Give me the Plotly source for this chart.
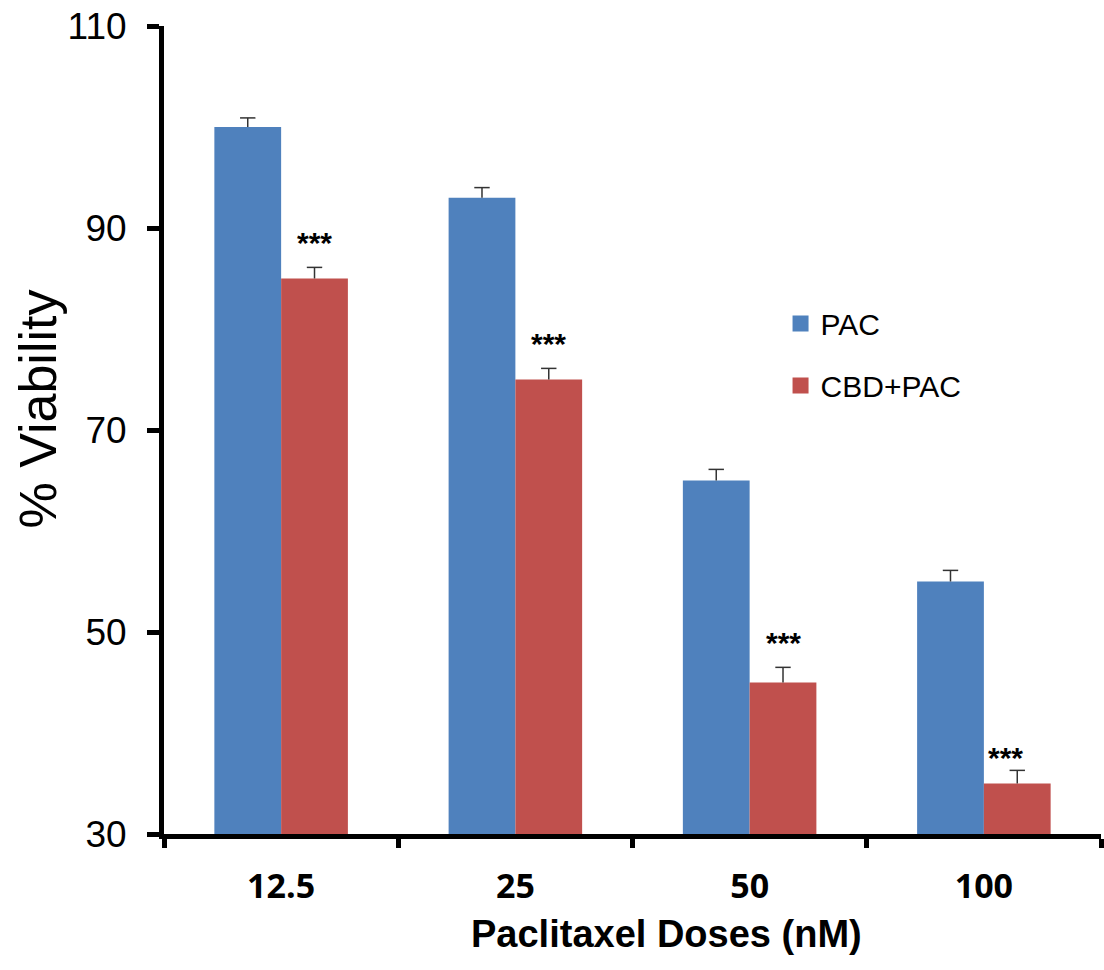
import plotly.graph_objects as go

categories = ["12.5", "25", "50", "100"]
pac = [100, 93, 65, 55]
pac_err = [0.9, 1.0, 1.1, 1.1]
cbd_pac = [85, 75, 45, 35]
cbd_pac_err = [1.1, 1.1, 1.5, 1.3]
sig_labels = ["***", "***", "***", "***"]
y_ticks = [30, 50, 70, 90, 110]

BLUE = "#4F81BD"
RED = "#C0504D"
BARGAP = 0.43
ERRC = "#333333"

fig = go.Figure()
fig.add_trace(go.Bar(x=categories, y=pac, name="PAC", marker_color=BLUE,
                     marker_line_width=0, showlegend=False,
                     error_y=dict(type="data", array=pac_err, arrayminus=[0]*4,
                                  symmetric=False, color=ERRC, thickness=1.5, width=0)))
fig.add_trace(go.Bar(x=categories, y=cbd_pac, name="CBD+PAC", marker_color=RED,
                     marker_line_width=0, showlegend=False,
                     error_y=dict(type="data", array=cbd_pac_err, arrayminus=[0]*4,
                                  symmetric=False, color=ERRC, thickness=1.5, width=0)))

# error bar caps (top only)
half = (1 - BARGAP) / 4
xs, ys = [], []
for i in range(len(categories)):
    xs += [i - half, i + half]
    ys += [pac[i] + pac_err[i], cbd_pac[i] + cbd_pac_err[i]]
fig.add_trace(go.Scatter(x=xs, y=ys, mode="markers", showlegend=False, xaxis="x2",
                         hoverinfo="skip",
                         marker=dict(symbol="line-ew-open", size=11, color=ERRC,
                                     line=dict(color=ERRC, width=1.5))))

# legend proxies with larger square symbols
for nm, col, grp in [("PAC", BLUE, "a"), ("CBD+PAC", RED, "b")]:
    fig.add_trace(go.Scatter(x=[None], y=[None], mode="markers", name=nm,
                             legendgroup=grp,
                             marker=dict(symbol="square", size=18, color=col)))

# significance stars above CBD+PAC bars
for i, (v, e, s) in enumerate(zip(cbd_pac, cbd_pac_err, sig_labels)):
    fig.add_annotation(x=i + half, y=v + e, xref="x2", yref="y", text=s,
                       showarrow=False, yanchor="bottom",
                       yshift=6 if i < 3 else -6, xshift=0 if i < 3 else -12,
                       font=dict(family="Liberation Sans", size=30, color="black",
                                 weight="bold"))

# axis titles
fig.add_annotation(x=0.536, y=-0.124, xref="paper", yref="paper",
                   text="<b>Paclitaxel Doses (nM)</b>", showarrow=False,
                   xanchor="center", yanchor="middle",
                   font=dict(family="Liberation Sans", size=38, color="black"))
fig.add_annotation(x=-0.135, y=0.526, xref="paper", yref="paper",
                   text="% Viability", showarrow=False, textangle=-90,
                   xanchor="center", yanchor="middle",
                   font=dict(family="Liberation Sans", size=52, color="black"))

fig.update_layout(
    width=1104, height=970,
    margin=dict(l=164, r=3, t=26, b=136),
    paper_bgcolor="white", plot_bgcolor="white",
    barmode="group", bargap=BARGAP, bargroupgap=0,
    legend=dict(x=0.658, y=0.664, xanchor="left", yanchor="top",
                font=dict(family="Liberation Sans", size=30, color="black"),
                traceorder="grouped", tracegroupgap=20, bgcolor="rgba(0,0,0,0)"),
    font=dict(family="Liberation Sans", color="black"),
    xaxis2=dict(overlaying="x", range=[-0.5, 3.5], visible=False),
)
fig.layout.xaxis.update(
    type="category", range=[-0.5, 3.5], automargin=False,
    showline=True, linecolor="black", linewidth=5,
    ticks="outside", tickson="boundaries", ticklen=9, tickwidth=5,
    tickcolor="black", showgrid=False, zeroline=False,
    tickfont=dict(family="Open Sans", size=34, color="black", weight="bold"),
    ticklabelstandoff=18, ticklabeloverflow="allow")
fig.update_yaxes(range=[30, 110], tickvals=y_ticks, automargin=False,
                 showline=True, linecolor="black", linewidth=5,
                 ticks="outside", ticklen=12, tickwidth=5, tickcolor="black",
                 showgrid=False, zeroline=False,
                 tickfont=dict(family="Liberation Sans", size=37, color="black"),
                 ticklabelstandoff=13, ticklabeloverflow="allow")

fig.write_html("out.html", config={"displayModeBar": False},
               post_script="document.body.style.margin='0';"
                           "document.body.style.overflow='hidden';")
